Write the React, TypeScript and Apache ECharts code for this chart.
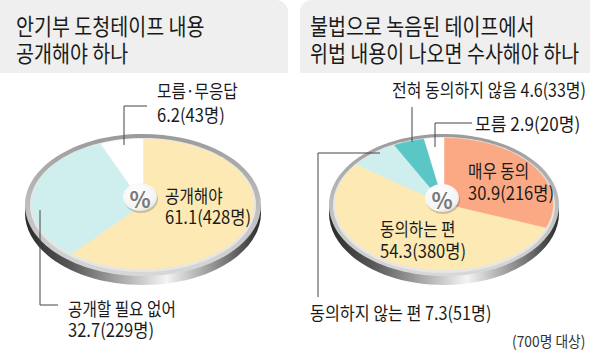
import React, { useEffect, useRef } from "react";
import * as echarts from "echarts";

const leftCategories = ["공개해야", "공개할 필요 없어", "모름·무응답"];
const leftValues = [61.1, 32.7, 6.2];
const leftCounts = [428, 229, 43];
const leftColors = ["#FCE9B3", "#CFEEEE", "#FFFFFF"];

const rightCategories = ["매우 동의", "동의하는 편", "동의하지 않는 편", "전혀 동의하지 않음", "모름"];
const rightValues = [30.9, 54.3, 7.3, 4.6, 2.9];
const rightCounts = [216, 380, 51, 33, 20];
const rightColors = ["#FBA984", "#FCE9B3", "#CFEEEE", "#5BC6C6", "#FFFFFF"];

const FONT = "'Noto Sans CJK KR', 'Noto Sans', sans-serif";

type Pie = { cx: number; cy: number; rx: number; ry: number };
const LP: Pie = { cx: 143, cy: 204, rx: 111, ry: 65 };
const RP: Pie = { cx: 444, cy: 204, rx: 109, ry: 66 };

function makeSeries(values: number[], colors: string[], p: Pie) {
  const total = values.reduce((a, b) => a + b, 0);
  return {
    type: "custom",
    coordinateSystem: "none",
    z: 5,
    data: values,
    renderItem: (params: any, api: any) => {
      const i = params.dataIndex;
      let start = 0;
      for (let k = 0; k < i; k++) start += values[k];
      const v = api.value(0);
      const a0 = (start / total) * Math.PI * 2;
      const a1 = ((start + v) / total) * Math.PI * 2;
      const pts: number[][] = [[p.cx, p.cy]];
      const n = Math.max(2, Math.ceil(((a1 - a0) * 180) / Math.PI));
      for (let s = 0; s <= n; s++) {
        const t = a0 + ((a1 - a0) * s) / n;
        pts.push([p.cx + p.rx * Math.sin(t), p.cy - p.ry * Math.cos(t)]);
      }
      return {
        type: "polygon",
        shape: { points: pts },
        style: { fill: colors[i], stroke: colors[i], lineWidth: 0.5 },
      };
    },
  };
}

function rim(p: Pie, ox: number, oy: number) {
  const cx = p.cx;
  const cy = p.cy;
  return [
    {
      type: "ellipse",
      z: 1,
      shape: { cx, cy: cy + 9, rx: p.rx + ox, ry: p.ry + oy + 1 },
      style: {
        fill: new echarts.graphic.LinearGradient(0, 0, 1, 0, [
          { offset: 0, color: "#2a2a2a" },
          { offset: 0.2, color: "#5a5a5a" },
          { offset: 0.6, color: "#f4f4f4" },
          { offset: 0.85, color: "#7a7a7a" },
          { offset: 1, color: "#2a2a2a" },
        ]),
      },
    },
    {
      type: "ellipse",
      z: 2,
      shape: { cx, cy: cy + 1, rx: p.rx + ox, ry: p.ry + oy },
      style: {
        fill: new echarts.graphic.LinearGradient(0, 0, 0, 1, [
          { offset: 0, color: "#9a9a9a" },
          { offset: 0.5, color: "#bdbdbd" },
          { offset: 1, color: "#d8d8d8" },
        ]),
      },
    },
    {
      type: "ellipse",
      z: 3,
      shape: { cx, cy: cy + 1, rx: p.rx + 2, ry: p.ry + 2 },
      style: { fill: "#e6e6e6" },
    },
  ];
}

function pctBadge(x: number, y: number) {
  return [
    {
      type: "ellipse",
      z: 20,
      shape: { cx: x + 1, cy: y + 2, rx: 17, ry: 14 },
      style: { fill: "rgba(0,0,0,0.18)" },
    },
    {
      type: "ellipse",
      z: 21,
      shape: { cx: x, cy: y, rx: 17, ry: 14 },
      style: {
        fill: new echarts.graphic.RadialGradient(0.4, 0.35, 0.8, [
          { offset: 0, color: "#ffffff" },
          { offset: 0.7, color: "#f4f4f4" },
          { offset: 1, color: "#d0d0d0" },
        ]),
      },
    },
    {
      type: "text",
      z: 22,
      x,
      y: y + 1,
      style: {
        text: "%",
        fill: "#7a7a7a",
        font: `bold 22px ${FONT}`,
        textAlign: "center",
        textVerticalAlign: "middle",
      },
    },
  ];
}

function txt(x: number, y: number, text: string, size: number, sx = 1, color = "#1a1a1a") {
  return {
    type: "text",
    z: 30,
    x,
    y,
    scaleX: sx,
    style: {
      text,
      fill: color,
      font: `${size}px ${FONT}`,
      textAlign: "left",
      textVerticalAlign: "middle",
    },
  };
}

function line(points: number[][]) {
  return {
    type: "polyline",
    z: 25,
    shape: { points },
    style: { stroke: "#444", lineWidth: 1, fill: "none" },
  };
}

export default function App() {
  const ref = useRef<HTMLDivElement>(null);
  useEffect(() => {
    if (!ref.current) return;
    const chart = echarts.init(ref.current, undefined, { renderer: "svg" });
    const lbl = (v: number, c: number) => `${v}(${c}명)`;
    chart.setOption({
      animation: false,
      backgroundColor: "#ffffff",
      series: [
        makeSeries(leftValues, leftColors, LP),
        makeSeries(rightValues, rightColors, RP),
      ],
      graphic: [
        {
          type: "rect",
          z: 0,
          shape: { x: 0, y: 0, width: 288, height: 73, r: [0, 12, 0, 0] },
          style: { fill: "#EFEFEF" },
        },
        {
          type: "rect",
          z: 0,
          shape: { x: 300, y: 0, width: 290, height: 73, r: [12, 0, 0, 0] },
          style: { fill: "#EFEFEF" },
        },
        txt(16, 25, "안기부 도청테이프 내용", 23, 0.85),
        txt(16, 52, "공개해야 하나", 23, 0.85),
        txt(310, 25, "불법으로 녹음된 테이프에서", 23, 0.85),
        txt(310, 52, "위법 내용이 나오면 수사해야 하나", 23, 0.85),
        ...rim(LP, 7, 6),
        ...rim(RP, 6, 5),
        ...pctBadge(140, 197),
        ...pctBadge(442, 198),
        // left labels
        txt(157, 90, leftCategories[2], 18, 0.87),
        txt(157, 114, lbl(leftValues[2], leftCounts[2]), 18, 0.92),
        txt(165, 195, leftCategories[0], 18, 0.87),
        txt(165, 216, lbl(leftValues[0], leftCounts[0]), 18, 0.92),
        txt(68, 308, leftCategories[1], 18, 0.87),
        txt(68, 329, lbl(leftValues[1], leftCounts[1]), 18, 0.92),
        line([[147, 106], [124, 106], [124, 145]]),
        line([[40, 210], [40, 305], [58, 305]]),
        // right labels
        txt(392, 89, `${rightCategories[3]} ${lbl(rightValues[3], rightCounts[3])}`, 18, 0.89),
        txt(475, 123, `${rightCategories[4]} ${lbl(rightValues[4], rightCounts[4])}`, 18, 0.95),
        txt(468, 170, rightCategories[0], 18, 0.87),
        txt(468, 192, lbl(rightValues[0], rightCounts[0]), 18, 0.92),
        txt(380, 228, rightCategories[1], 18, 0.87),
        txt(380, 250, lbl(rightValues[1], rightCounts[1]), 18, 0.92),
        txt(310, 312, `${rightCategories[2]} ${lbl(rightValues[2], rightCounts[2])}`, 18, 0.9),
        txt(512, 340, "(700명 대상)", 15, 0.92, "#333"),
        line([[412, 107], [412, 142]]),
        line([[472, 123], [435, 123], [435, 147]]),
        line([[380, 153], [318, 153], [318, 297]]),
      ],
    });
    return () => chart.dispose();
  }, []);
  return (
    <div
      ref={ref}
      style={{ position: "fixed", left: 0, top: 0, width: 590, height: 353 }}
    />
  );
}
